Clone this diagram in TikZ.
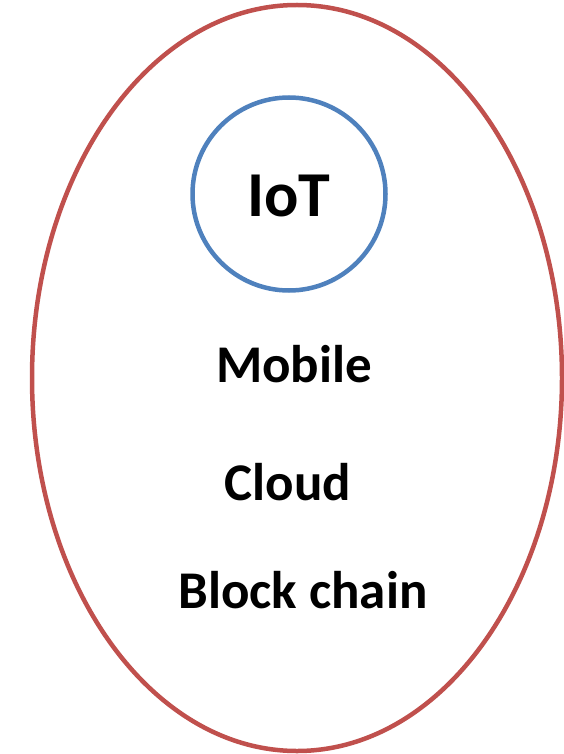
\documentclass[tikz,border=0pt]{standalone}
\usepackage{fontspec}
\setmainfont{Carlito}
\usetikzlibrary{positioning, shapes.geometric}
\definecolor{ovalred}{RGB}{192,80,77}
\definecolor{ringblue}{RGB}{79,129,189}
\tikzset{
	tech/.style={font=\fontsize{53}{56}\selectfont\bfseries, inner sep=0pt}
}
\begin{document}
\begin{tikzpicture}[x=1pt, y=-1pt]
		\useasboundingbox (0,0) rectangle (564,754);
		\node[ellipse, draw=ovalred, line width=4.5pt, minimum width=530pt, minimum height=746pt, inner sep=0pt] (oval) at (297,378) {};
		\node[circle, draw=ringblue, line width=4.5pt, minimum size=193pt, inner sep=0pt] (iot) at (289,194) {};
		\node[font=\fontsize{64}{66}\selectfont\bfseries, inner sep=0pt] (IoT) at (289,196) {IoT};
		\foreach \x /\y /\alph/\name in {
			294/364/mobile/Mobile,
			288/482/cloud/Cloud,
			303/590/chain/Block chain
		}{
			\node[tech] (\alph) at (\x,\y) {\name};
		}
\end{tikzpicture}
\end{document}
